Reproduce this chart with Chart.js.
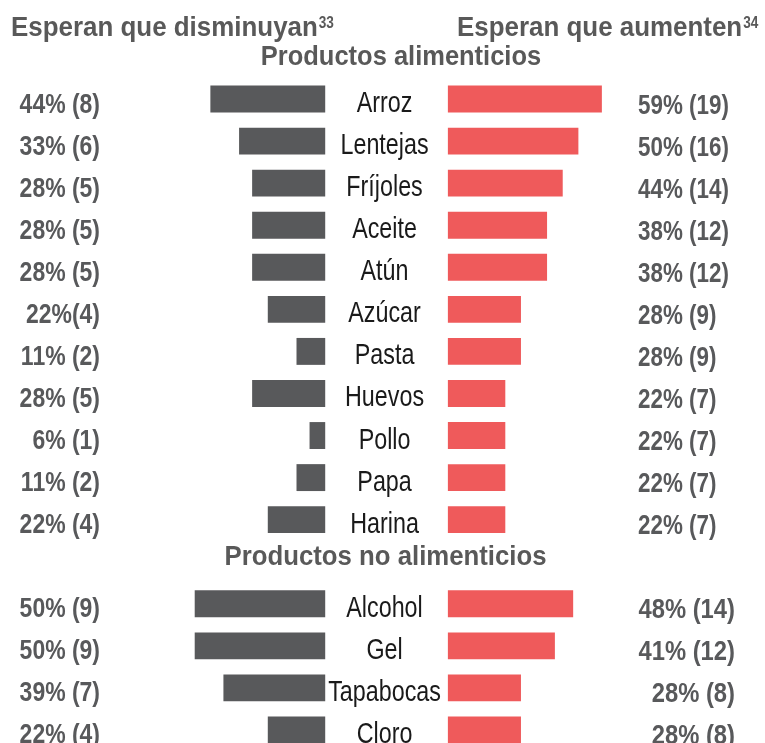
<!DOCTYPE html>
<html>
<head>
<meta charset="utf-8">
<script src="https://cdn.jsdelivr.net/npm/chart.js@4.4.0/dist/chart.umd.min.js"></script>
<style>
  html, body { margin: 0; padding: 0; background: #fff; overflow: hidden; }
  canvas { display: block; }
</style>
</head>
<body>
<canvas id="chart" width="765" height="751"></canvas>
<script>
// Categories (the empty slot holds the "Productos no alimenticios" heading)
const categories = ['Arroz', 'Lentejas', 'Fríjoles', 'Aceite', 'Atún', 'Azúcar', 'Pasta', 'Huevos', 'Pollo', 'Papa', 'Harina', '', 'Alcohol', 'Gel', 'Tapabocas', 'Cloro'];

// Esperan que disminuyan (%)
const decreasePct = [44, 33, 28, 28, 28, 22, 11, 28, 6, 11, 22, null, 50, 50, 39, 22];
const decreaseText = ['44% (8)', '33% (6)', '28% (5)', '28% (5)', '28% (5)', '22%(4)', '11% (2)', '28% (5)', '6% (1)', '11% (2)', '22% (4)', '', '50% (9)', '50% (9)', '39% (7)', '22% (4)'];

// Esperan que aumenten (%)
const increasePct = [59, 50, 44, 38, 38, 28, 28, 22, 22, 22, 22, null, 48, 41, 28, 28];
const increaseText = ['59% (19)', '50% (16)', '44% (14)', '38% (12)', '38% (12)', '28% (9)', '28% (9)', '22% (7)', '22% (7)', '22% (7)', '22% (7)', '', '48% (14)', '41% (12)', '28% (8)', '28% (8)'];

const sectionTitles = ['Productos alimenticios', 'Productos no alimenticios'];
const sideTitles = ['Esperan que disminuyan', 'Esperan que aumenten'];
const sideNotes = ['33', '34'];

const GAP = 23.5; // half of the empty band in the middle, in % units
const GRAY = '#58595b';
const RED = '#ef5a5b';
const FONT = '"Liberation Sans", Arial, sans-serif';

// draw text squeezed horizontally (the original uses a condensed face)
function drawText(ctx, text, x, y, font, color, align, sx) {
    ctx.save();
    ctx.font = font;
    ctx.fillStyle = color;
    ctx.textBaseline = 'alphabetic';
    ctx.textAlign = align;
    ctx.translate(x, y);
    ctx.scale(sx, 1);
    ctx.fillText(text, 0, 0);
    const w = ctx.measureText(text).width * sx;
    ctx.restore();
    return w;
}

const labelsPlugin = {
    id: 'butterflyLabels',
    afterDatasetsDraw(chart) {
        const ctx = chart.ctx;
        const xs = chart.scales.x;
        const ys = chart.scales.y;
        const mid = xs.getPixelForValue(0) - 2;

        // side titles with footnote marks
        const bold27 = 'bold 27px ' + FONT;
        let w = drawText(ctx, sideTitles[0], 11, 36, bold27, '#595959', 'left', 0.96);
        drawText(ctx, sideNotes[0], 11 + w + 1, 28, 'bold 16px ' + FONT, '#595959', 'left', 0.85);
        w = drawText(ctx, sideTitles[1], 457, 36, bold27, '#595959', 'left', 0.96);
        drawText(ctx, sideNotes[1], 457 + w + 1, 28, 'bold 16px ' + FONT, '#595959', 'left', 0.85);

        // section headings
        drawText(ctx, sectionTitles[0], 401, 65, 'bold 28px ' + FONT, '#595959', 'center', 0.91);
        drawText(ctx, sectionTitles[1], mid + 1, ys.getPixelForValue(11) + 3, 'bold 28px ' + FONT, '#595959', 'center', 0.92);

        categories.forEach((cat, i) => {
            if (!cat) return;
            const y = ys.getPixelForValue(i);
            drawText(ctx, cat, mid, y + 13, '29.5px ' + FONT, '#1a1a1a', 'center', 0.79);
            drawText(ctx, decreaseText[i], 100, y + 13.5, 'bold 28px ' + FONT, GRAY, 'right', 0.82);
            if (i < 11) {
                drawText(ctx, increaseText[i], 638, y + 14.5, 'bold 28px ' + FONT, GRAY, 'left', 0.8);
            } else {
                drawText(ctx, increaseText[i], 735, y + 14.5, 'bold 28px ' + FONT, GRAY, 'right', 0.85);
            }
        });
    }
};

const ctx = document.getElementById('chart').getContext('2d');
const chart = new Chart(ctx, {
    type: 'bar',
    data: {
        labels: categories,
        datasets: [
            {
                label: sideTitles[0],
                data: decreasePct.map(v => v == null ? null : [-GAP - v, -GAP]),
                backgroundColor: GRAY,
                grouped: false,
                barPercentage: 0.64,
                categoryPercentage: 1
            },
            {
                label: sideTitles[1],
                data: increasePct.map(v => v == null ? null : [GAP, GAP + v]),
                backgroundColor: RED,
                grouped: false,
                barPercentage: 0.64,
                categoryPercentage: 1
            }
        ]
    },
    options: {
        indexAxis: 'y',
        responsive: false,
        animation: false,
        layout: { padding: { top: 78, left: 0, right: 0, bottom: 0 } },
        plugins: {
            legend: { display: false },
            tooltip: { enabled: false }
        },
        scales: {
            x: { display: false, min: -148.1, max: 145 },
            y: { display: false }
        }
    },
    plugins: [labelsPlugin]
});
</script>
</body>
</html>
